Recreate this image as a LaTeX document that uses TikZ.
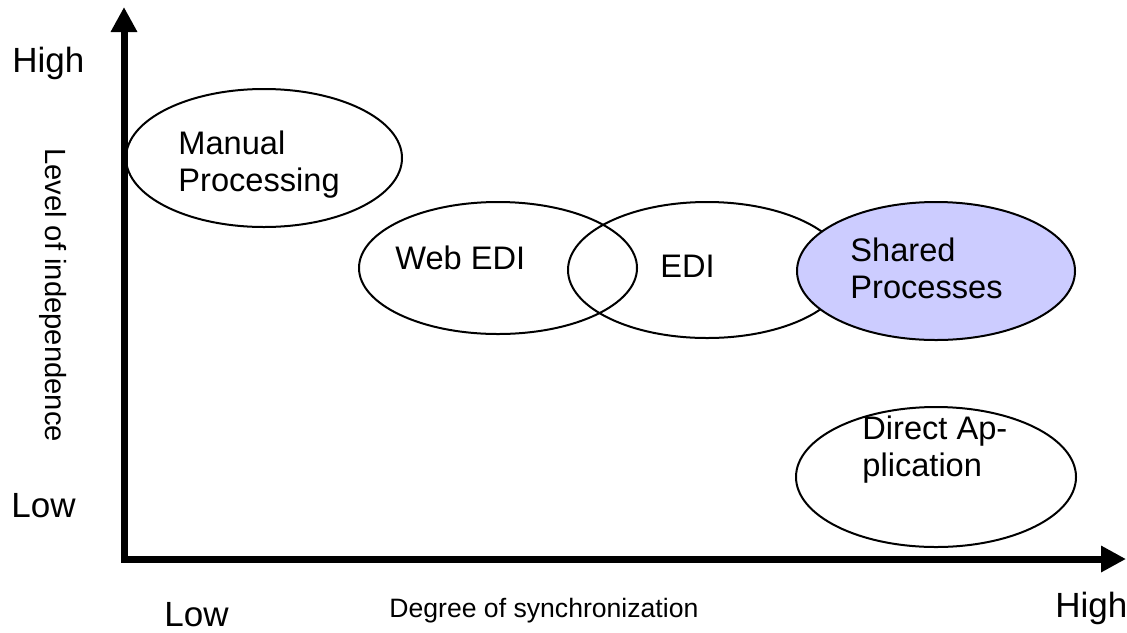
\documentclass[tikz,border=0pt]{standalone}
\usepackage{fontspec}
\setmainfont{Liberation Sans}
\usetikzlibrary{shapes.geometric,arrows.meta}
\definecolor{sharedblue}{HTML}{CCCCFF}
\tikzset{>={Triangle[length=12.5pt,width=12.5pt]},
  axis/.style={line width=3.5pt},
  blob/.style={ellipse,draw,line width=1pt,inner sep=0pt},
  tag/.style={anchor=north west,inner sep=0pt,align=left,
    font=\fontsize{16.3pt}{18.5pt}\selectfont},
  level/.style={anchor=north west,inner sep=0pt,
    font=\fontsize{17.5pt}{21pt}\selectfont}}

\begin{document}
\begin{tikzpicture}[x=0.5pt,y=-0.5pt]
  \useasboundingbox (0,0) rectangle (1127,632);
  % axes
  \coordinate (ytip) at (124,7);
  \coordinate (xtip) at (1126,559);
  \draw [axis,<->] (ytip) |- (xtip);
  % the five approaches
  \node [blob,minimum width=138pt,minimum height=69pt] (manual) at (264,158) {};
  \node [blob,minimum width=139pt,minimum height=66pt] (webedi) at (498,268) {};
  \node [blob,minimum width=139pt,minimum height=68pt] (edi) at (707,270) {};
  \node [blob,fill=sharedblue,minimum width=139pt,minimum height=69pt] (shared) at (936,271) {};
  \node [blob,minimum width=140pt,minimum height=70pt] (direct) at (936,477) {};
  \node [tag] (manualtxt) at (178,130) {Manual\\Processing};
  \node [tag] (webeditxt) at (395,245) {Web EDI};
  \node [tag] (editxt) at (660,255) {EDI};
  \node [tag] (sharedtxt) at (850,237) {Shared\\Processes};
  \node [tag] (directtxt) at (862,415) {Direct Ap-\\plication};
  % scale labels
  \node [level] (yhigh) at (12,47) {High};
  \node [level] (ylow) at (11,493) {Low};
  \node [level] (xlow) at (164,602) {Low};
  \node [level] (xhigh) at (1055,592) {High};
  \node [anchor=north west,inner sep=0pt,font=\fontsize{13.3pt}{16pt}\selectfont]
    (xtitle) at (389,598) {Degree of synchronization};
  \node [rotate=-90,inner sep=0pt,font=\fontsize{14.6pt}{17pt}\selectfont]
    (ytitle) at (53,295) {Level of independence};
\end{tikzpicture}
\end{document}
